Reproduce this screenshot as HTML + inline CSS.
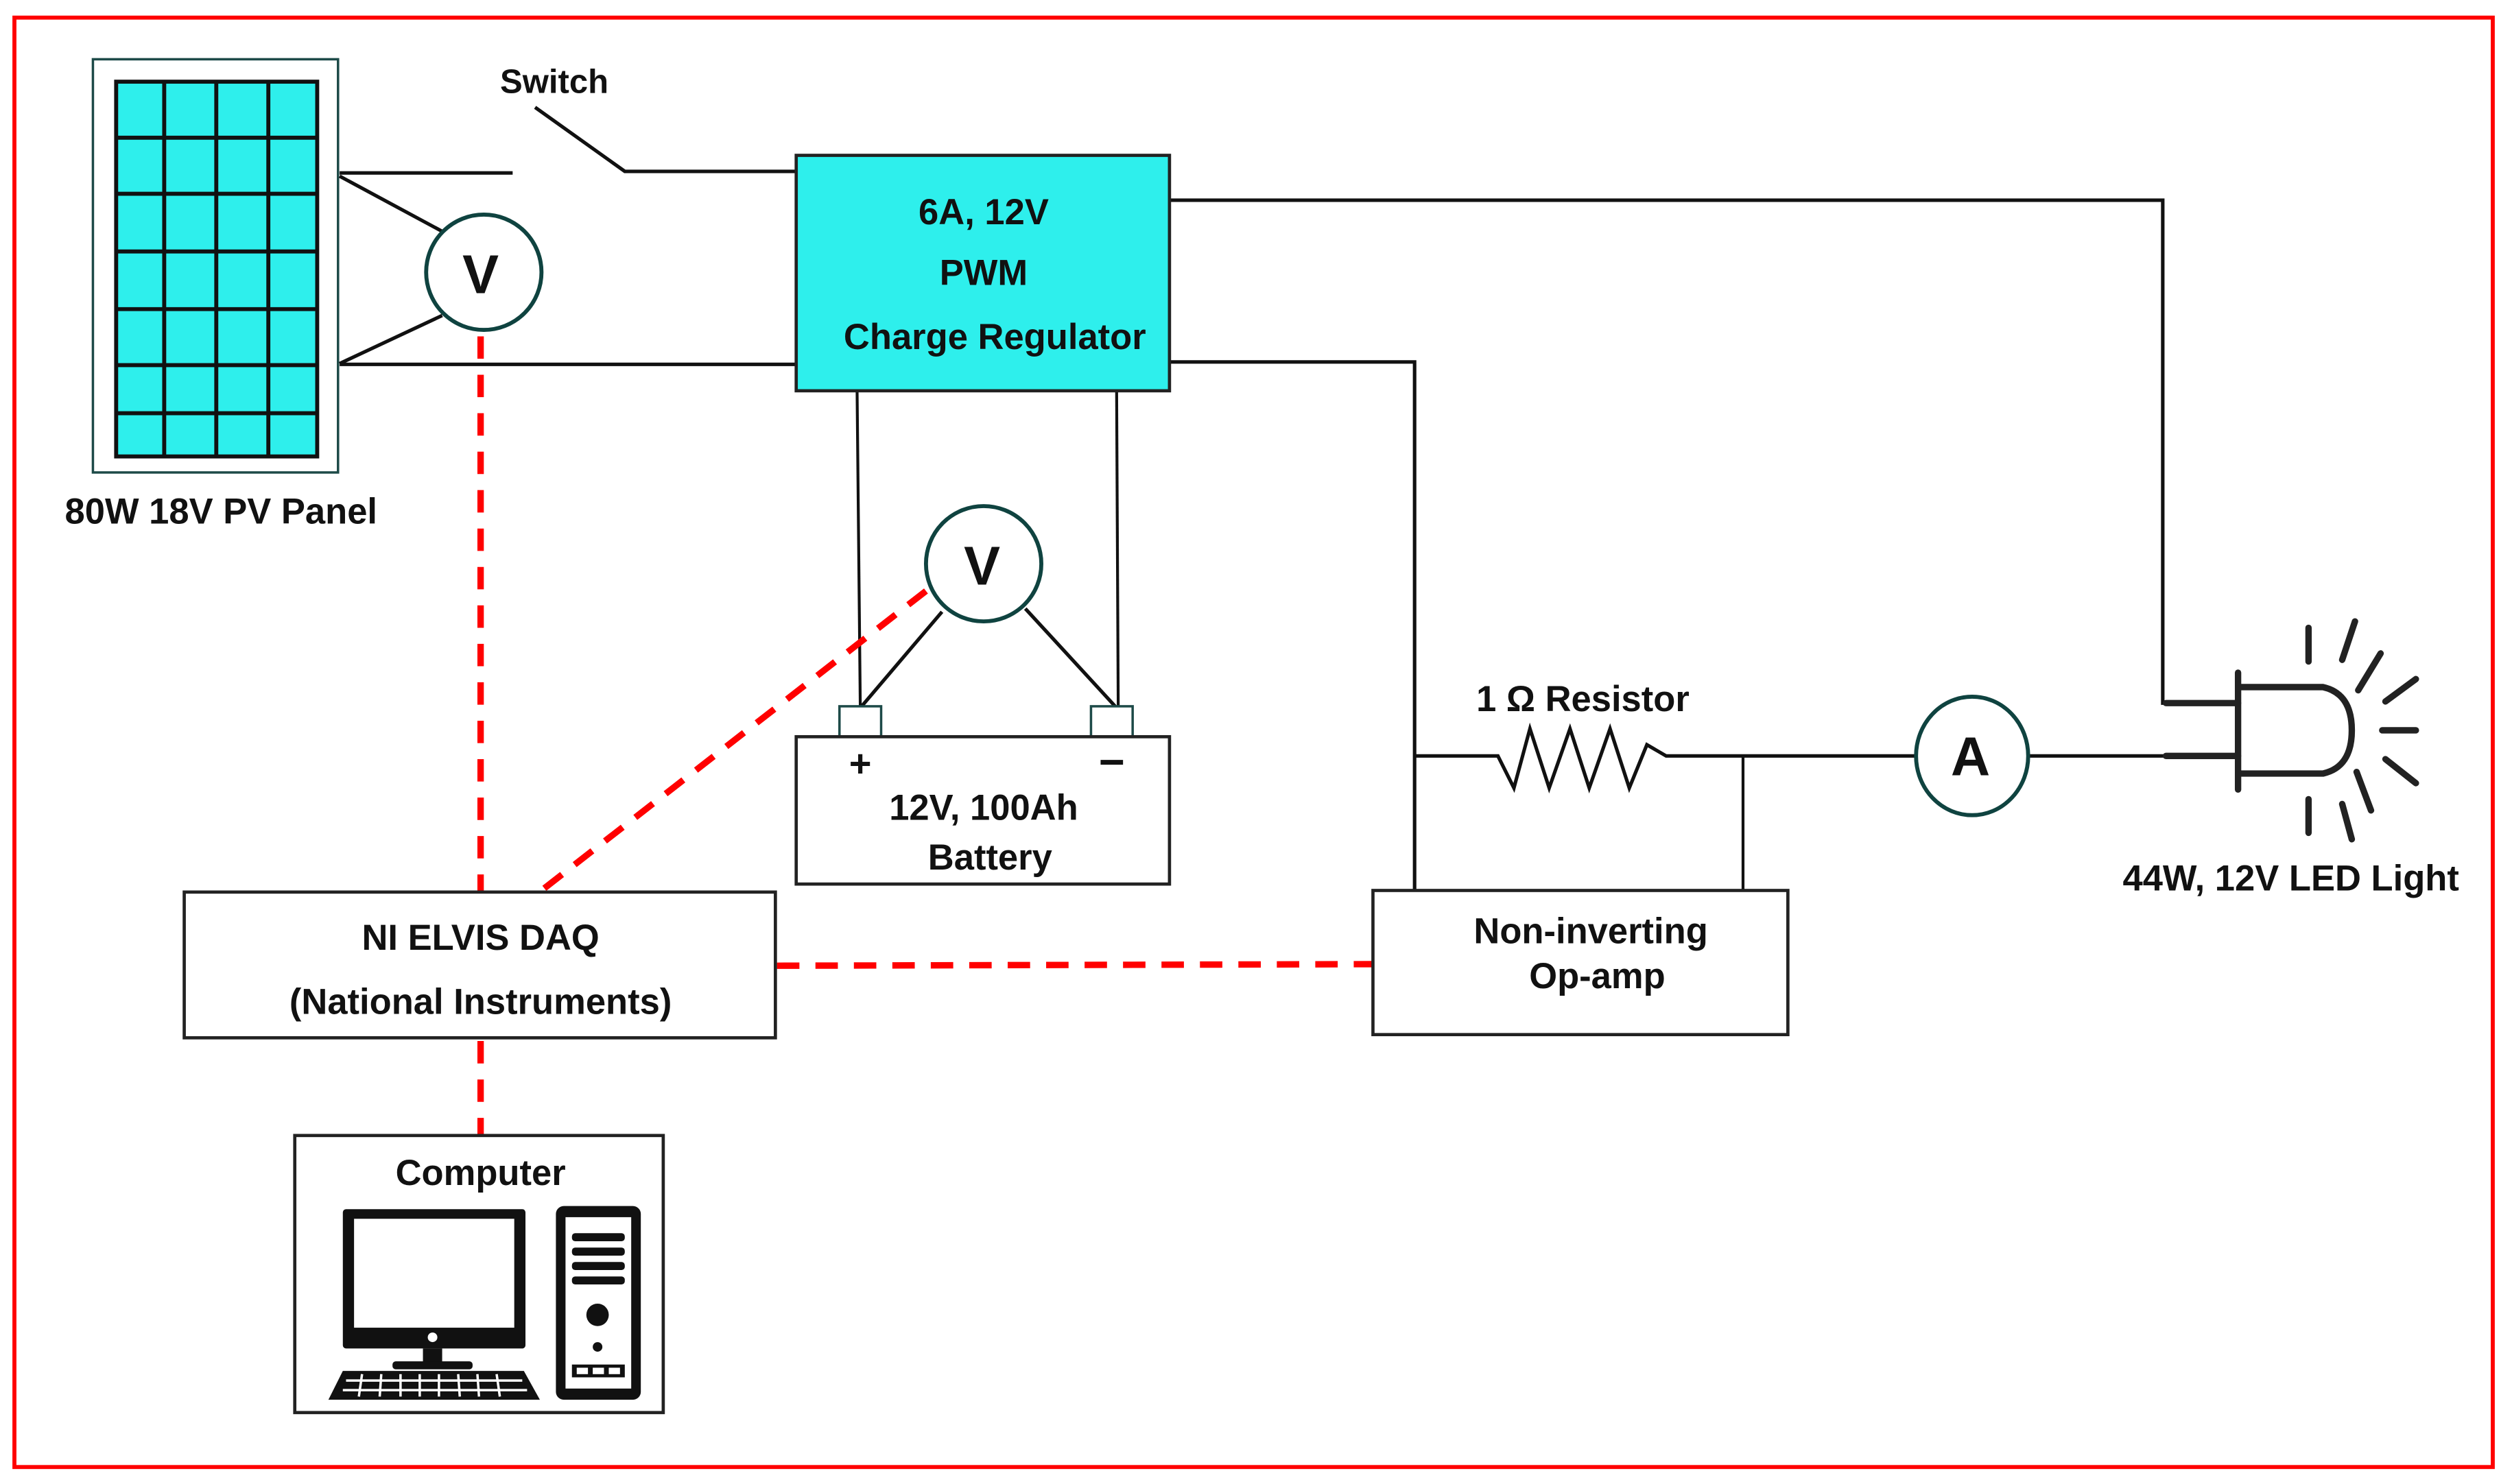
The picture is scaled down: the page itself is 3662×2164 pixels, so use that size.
<!DOCTYPE html>
<html><head><meta charset="utf-8"><style>
html,body{margin:0;padding:0;background:#fff;}
svg{display:block;}
text{font-family:"Liberation Sans",sans-serif;font-weight:bold;fill:#111;}
</style></head><body>
<svg width="3662" height="2164" viewBox="0 0 1568 926.6" preserveAspectRatio="none" xmlns="http://www.w3.org/2000/svg">
<rect x="0" y="0" width="1568" height="926.6" fill="#fff"/>
<rect x="9" y="11" width="1547" height="905" fill="none" stroke="#f00" stroke-width="2.5"/>

<!-- PV panel -->
<rect x="58" y="37" width="153" height="258" fill="#fff" stroke="#1d4a48" stroke-width="1.5"/>
<rect x="72.5" y="51" width="125.5" height="234" fill="#2eefec" stroke="#111" stroke-width="2.5"/>
<g stroke="#111" stroke-width="2.5">
<line x1="102.5" y1="51" x2="102.5" y2="285"/><line x1="135" y1="51" x2="135" y2="285"/><line x1="167.5" y1="51" x2="167.5" y2="285"/>
<line x1="72.5" y1="86" x2="198" y2="86"/><line x1="72.5" y1="121" x2="198" y2="121"/><line x1="72.5" y1="157" x2="198" y2="157"/>
<line x1="72.5" y1="193" x2="198" y2="193"/><line x1="72.5" y1="228" x2="198" y2="228"/><line x1="72.5" y1="258" x2="198" y2="258"/>
</g>
<text x="138" y="327" font-size="22.5" text-anchor="middle">80W 18V PV Panel</text>

<!-- wires -->
<g stroke="#111" stroke-width="2.2" fill="none">
<line x1="212" y1="108" x2="320" y2="108"/>
<polyline points="334,67 390,107 497,107"/>
<line x1="212" y1="110" x2="277" y2="145"/>
<line x1="212" y1="227" x2="276" y2="197"/>
<line x1="212" y1="227.5" x2="497" y2="227.5"/>
<polyline points="730,125 1350,125 1350,439 1397,439"/>
<polyline points="730,226 883,226 883,556"/>
<line x1="535" y1="244" x2="537" y2="442" stroke-width="1.8"/>
<line x1="697" y1="244" x2="698" y2="442" stroke-width="1.8"/>
<line x1="588" y1="382" x2="537" y2="442"/>
<line x1="640" y1="380" x2="697" y2="442"/>
<polyline points="883,472 935,472 945,492 955,455 967,492 980,455 992,492 1005,455 1017,492 1028,465 1040,472 1195,472"/>
<line x1="1088" y1="472" x2="1088" y2="556" stroke-width="1.8"/>
<line x1="1267" y1="472" x2="1397" y2="472"/>
</g>
<text x="346" y="58" font-size="21" text-anchor="middle">Switch</text>

<!-- V meter 1 -->
<circle cx="302" cy="170" r="36" fill="#fff" stroke="#0f4340" stroke-width="2.5"/>
<text x="300" y="183" font-size="34" text-anchor="middle">V</text>

<!-- Regulator -->
<rect x="497" y="97" width="233" height="147" fill="#2eefec" stroke="#222" stroke-width="2"/>
<text x="614" y="140" font-size="22.5" text-anchor="middle">6A, 12V</text>
<text x="614" y="178" font-size="22.5" text-anchor="middle">PWM</text>
<text x="621" y="218" font-size="22.5" text-anchor="middle">Charge Regulator</text>

<!-- V meter 2 -->
<circle cx="614" cy="352" r="36" fill="#fff" stroke="#0f4340" stroke-width="2.5"/>
<text x="613" y="365" font-size="34" text-anchor="middle">V</text>

<!-- Battery -->
<rect x="524" y="441" width="26" height="19" fill="#fff" stroke="#1d4a48" stroke-width="1.5"/>
<rect x="681" y="441" width="26" height="19" fill="#fff" stroke="#1d4a48" stroke-width="1.5"/>
<rect x="497" y="460" width="233" height="92" fill="#fff" stroke="#222" stroke-width="2"/>
<text x="537" y="485" font-size="24" text-anchor="middle">+</text>
<line x1="687" y1="476" x2="701" y2="476" stroke="#111" stroke-width="3"/>
<text x="614" y="512" font-size="22.5" text-anchor="middle">12V, 100Ah</text>
<text x="618" y="543" font-size="22.5" text-anchor="middle">Battery</text>

<!-- red dashed -->
<g stroke="#f00" stroke-width="4" fill="none" stroke-dasharray="14,10">
<line x1="300" y1="210" x2="300" y2="556"/>
<line x1="300" y1="650" x2="300" y2="708"/>
<line x1="578" y1="369" x2="338" y2="556"/>
<line x1="485" y1="603" x2="857" y2="602"/>
</g>

<!-- DAQ -->
<rect x="115" y="557" width="369" height="91" fill="#fff" stroke="#222" stroke-width="2"/>
<text x="300" y="593" font-size="22.5" text-anchor="middle">NI ELVIS DAQ</text>
<text x="300" y="633" font-size="22.5" text-anchor="middle">(National Instruments)</text>

<!-- Computer -->
<rect x="184" y="709" width="230" height="173" fill="#fff" stroke="#222" stroke-width="2"/>
<text x="300" y="740" font-size="22.5" text-anchor="middle">Computer</text>
<rect x="214" y="755" width="114" height="87" rx="2" fill="#111"/>
<rect x="221" y="761" width="100" height="68" fill="#fff"/>
<circle cx="270" cy="835" r="3" fill="#fff"/>
<rect x="264" y="842" width="12" height="10" fill="#111"/>
<rect x="245" y="850" width="50" height="5" rx="2" fill="#111"/>
<polygon points="214,856 327,856 337,874 205,874" fill="#111"/>
<g stroke="#fff" stroke-width="1.5">
<line x1="216" y1="862" x2="326" y2="862"/><line x1="214" y1="868" x2="329" y2="868"/>
<line x1="226" y1="858" x2="224" y2="872"/><line x1="238" y1="858" x2="237" y2="872"/><line x1="250" y1="858" x2="250" y2="872"/><line x1="262" y1="858" x2="262" y2="872"/><line x1="274" y1="858" x2="274" y2="872"/><line x1="286" y1="858" x2="287" y2="872"/><line x1="298" y1="858" x2="299" y2="872"/><line x1="310" y1="858" x2="312" y2="872"/>
</g>
<rect x="347" y="753" width="53" height="121" rx="5" fill="#111"/>
<rect x="353" y="760" width="41" height="107" fill="#fff"/>
<g fill="#111">
<rect x="357" y="770" width="33" height="5" rx="2"/><rect x="357" y="779" width="33" height="5" rx="2"/><rect x="357" y="788" width="33" height="5" rx="2"/><rect x="357" y="797" width="33" height="5" rx="2"/>
<circle cx="373" cy="821" r="7"/><circle cx="373" cy="841" r="3"/>
<rect x="357" y="852" width="33" height="8"/>
</g>
<g fill="#fff"><rect x="360" y="854" width="7" height="4"/><rect x="370" y="854" width="7" height="4"/><rect x="380" y="854" width="7" height="4"/></g>

<!-- Op-amp -->
<rect x="857" y="556" width="259" height="90" fill="#fff" stroke="#222" stroke-width="2"/>
<text x="993" y="589" font-size="22.5" text-anchor="middle">Non-inverting</text>
<text x="997" y="617" font-size="22.5" text-anchor="middle">Op-amp</text>

<text x="988" y="444" font-size="22.5" text-anchor="middle">1 Ω Resistor</text>

<!-- Ammeter -->
<ellipse cx="1231" cy="472" rx="35" ry="37" fill="#fff" stroke="#0f4340" stroke-width="2.5"/>
<text x="1230" y="484" font-size="34" text-anchor="middle">A</text>

<!-- LED -->
<g stroke="#222" stroke-width="4" fill="none" stroke-linecap="round">
<line x1="1397" y1="420" x2="1397" y2="493"/>
<path d="M1397,429 L1450,429 Q1468,433 1468,456 Q1468,479 1450,483 L1397,483"/>
<line x1="1352" y1="439" x2="1397" y2="439"/>
<line x1="1352" y1="472" x2="1397" y2="472"/>
<line x1="1441" y1="392" x2="1441" y2="413"/>
<line x1="1470" y1="388" x2="1462" y2="412"/>
<line x1="1486" y1="408" x2="1472" y2="431"/>
<line x1="1508" y1="424" x2="1489" y2="438"/>
<line x1="1487" y1="456" x2="1508" y2="456"/>
<line x1="1489" y1="474" x2="1508" y2="489"/>
<line x1="1471" y1="482" x2="1480" y2="506"/>
<line x1="1441" y1="499" x2="1441" y2="520"/>
<line x1="1462" y1="502" x2="1468" y2="524"/>
</g>
<text x="1430" y="556" font-size="22.5" text-anchor="middle">44W, 12V LED Light</text>
</svg>
</body></html>
